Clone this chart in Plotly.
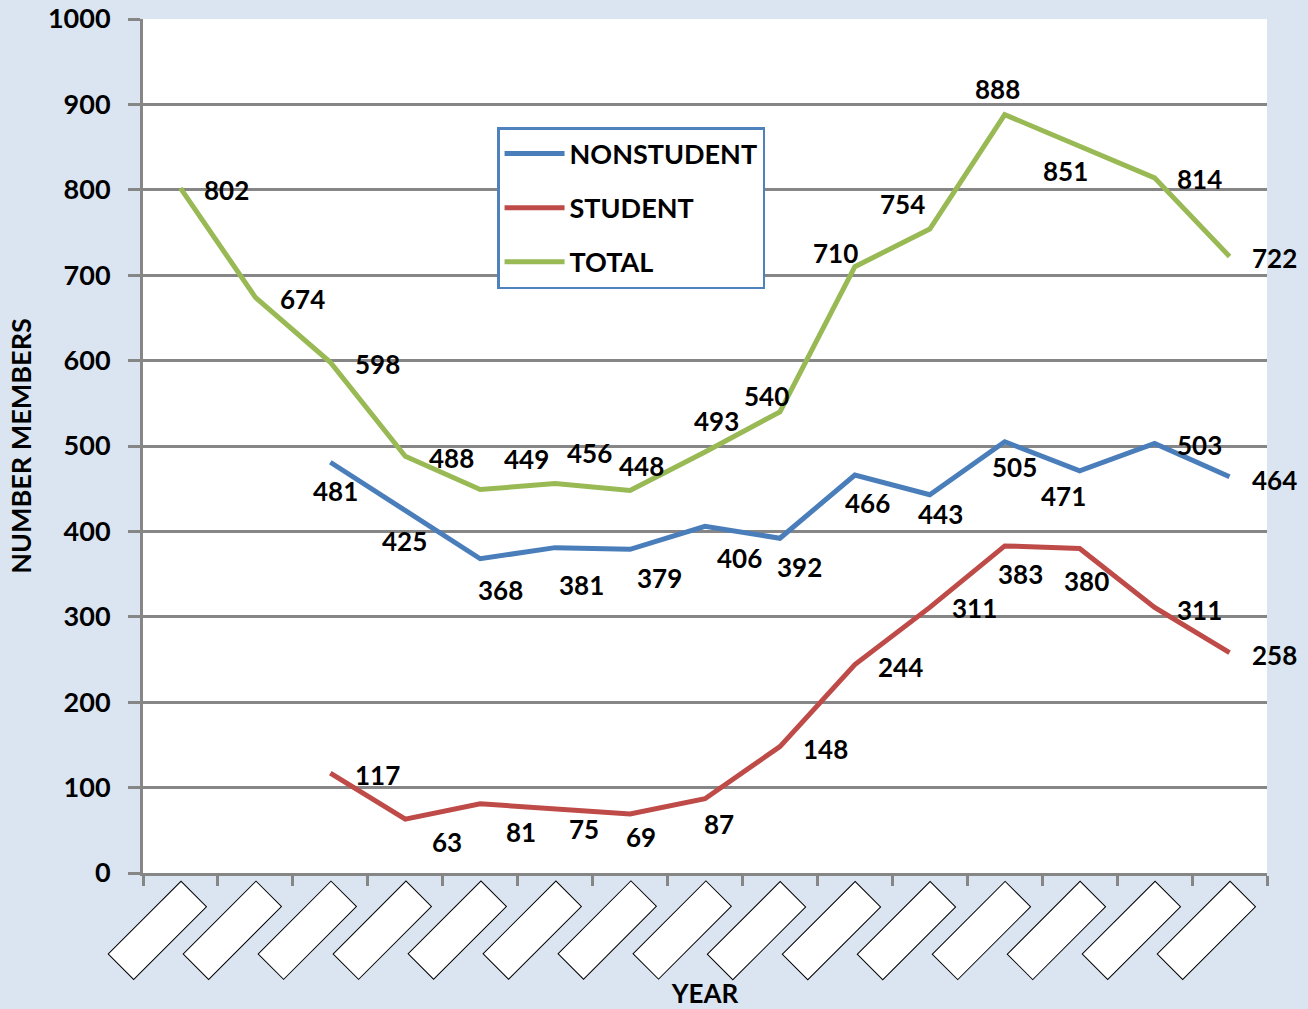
import plotly.graph_objects as go

years = ["1", "2", "3", "4", "5", "6", "7", "8", "9", "10", "11", "12", "13", "14", "15"]
nonstudent = [None, None, 481, 425, 368, 381, 379, 406, 392, 466, 443, 505, 471, 503, 464]
student = [None, None, 117, 63, 81, 75, 69, 87, 148, 244, 311, 383, 380, 311, 258]
total = [802, 674, 598, 488, 449, 456, 448, 493, 540, 710, 754, 888, 851, 814, 722]

# label offsets in px (dx right, dy down) relative to each point
off_total = [(46, 2), (47, 2), (47, 2), (46, 2), (46, -31), (34, -31), (11, -24), (11, -31),
             (-13, -16), (-19, -14), (-27, -25), (-7, -26), (-14, 25), (45, 1), (45, 2)]
off_non = [None, None, (5, 29), (-1, 31), (20, 31), (26, 37), (29, 29), (34, 32), (20, 29),
           (13, 28), (11, 19), (10, 25), (-16, 25), (45, 2), (45, 3)]
off_stu = [None, None, (47, 2), (42, 23), (41, 28), (29, 20), (11, 23), (14, 25), (46, 2),
           (46, 2), (45, 1), (16, 28), (7, 33), (45, 3), (45, 2)]

FONT = "Lato"
C_BLUE = "#4a7ebb"
C_RED = "#be4b48"
C_GREEN = "#98b954"
GRID = "#868686"

fig = go.Figure()
for name, vals, col in [("NONSTUDENT", nonstudent, C_BLUE), ("STUDENT", student, C_RED), ("TOTAL", total, C_GREEN)]:
    fig.add_trace(go.Scatter(x=years, y=vals, name=name, mode="lines", legendgroup=name,
                             line=dict(color=col, width=5), hoverinfo="x+y"))

ann = []
for vals, offs in [(total, off_total), (nonstudent, off_non), (student, off_stu)]:
    for i, (v, o) in enumerate(zip(vals, offs)):
        if v is None:
            continue
        ann.append(dict(x=i, y=v, xref="x", yref="y", text=str(v), showarrow=False,
                        xshift=o[0], yshift=-o[1], xanchor="center", yanchor="middle",
                        font=dict(family=FONT, size=26, color="black", weight="bold")))

for i in range(len(years)):
    ann.append(dict(x=i, y=0, xref="x", yref="paper", text="&nbsp;", showarrow=False,
                    textangle=-45, width=102, height=35, bgcolor="white", bordercolor="black",
                    borderwidth=1, borderpad=0, xanchor="center", yanchor="middle",
                    xshift=-23.5, yshift=-57))

fig.update_layout(
    width=1308, height=1009,
    margin=dict(l=143, r=41, t=19, b=136, autoexpand=False),
    paper_bgcolor="#dbe5f1",
    plot_bgcolor="white",
    font=dict(family=FONT, size=26, color="black"),
    showlegend=True,
    legend=dict(x=0.315, y=0.8735, xanchor="left", yanchor="top",
                bgcolor="white", bordercolor="#4f81bd", borderwidth=2.5,
                font=dict(family=FONT, size=27, color="black", weight="bold"),
                tracegroupgap=16, itemwidth=60),
    annotations=ann,
    xaxis=dict(type="category", range=[-0.5, 14.5], showticklabels=False, showgrid=False,
               tickson="boundaries", ticks="outside", ticklen=10, tickwidth=3, tickcolor=GRID,
               showline=True, linecolor=GRID, linewidth=3, zeroline=False, automargin=False,
               title=dict(text="YEAR", standoff=111,
                          font=dict(family=FONT, size=26, color="black", weight="bold"))),
    yaxis=dict(range=[0, 1000], dtick=100, showgrid=True, gridcolor=GRID, gridwidth=2.5,
               ticks="outside", ticklen=12, tickwidth=3, tickcolor=GRID,
               showline=True, linecolor=GRID, linewidth=3, zeroline=False, automargin=False,
               ticklabelstandoff=12,
               tickfont=dict(family=FONT, size=27, color="black", weight="bold"),
               title=dict(text="NUMBER MEMBERS", standoff=9,
                          font=dict(family=FONT, size=27, color="black", weight="bold"))),
)

fig.write_html("out.html", config={"displayModeBar": False},
               post_script="document.body.style.margin='0';document.body.style.overflow='hidden';")
